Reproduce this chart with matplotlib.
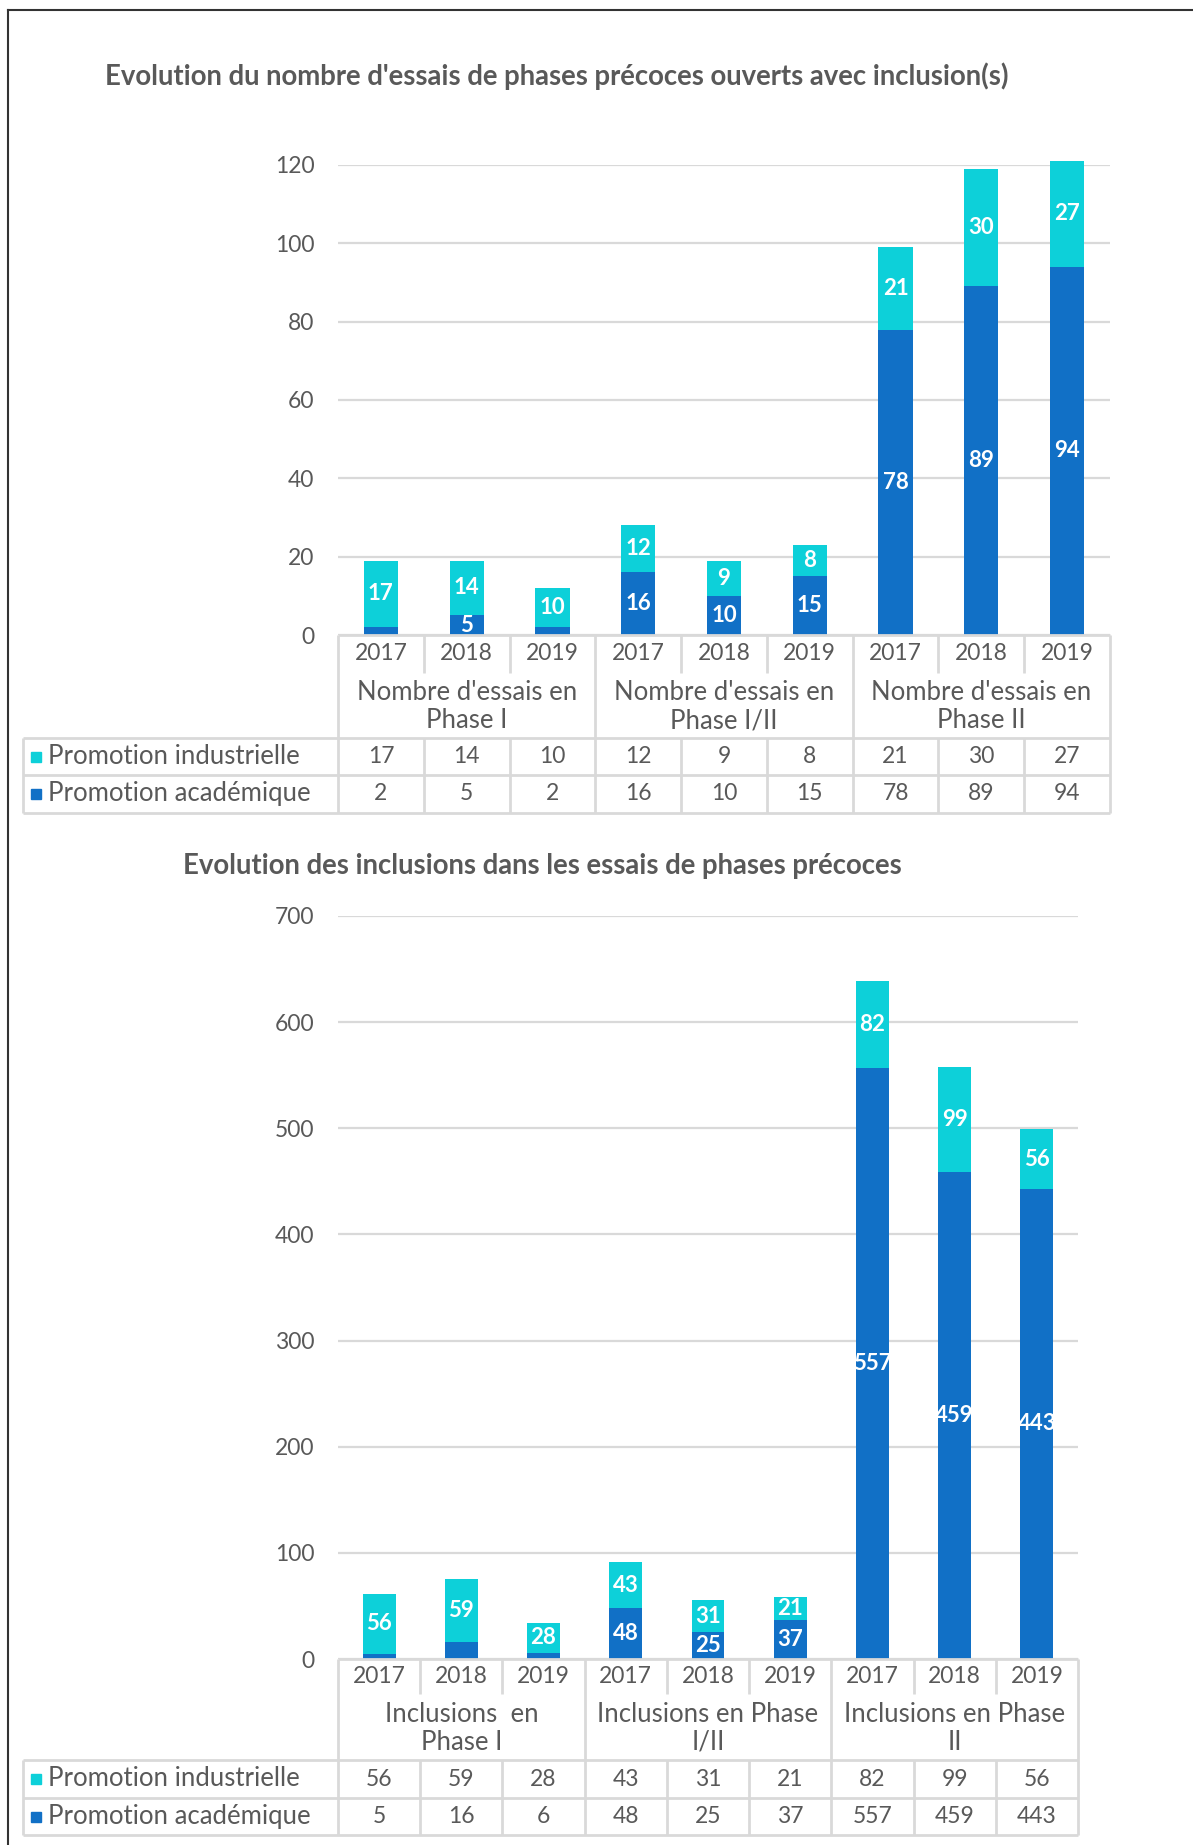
import numpy as np
import matplotlib.pyplot as plt
from matplotlib.lines import Line2D

W, H = 1193, 1845
DPI = 100

CYAN = '#0DD0D9'
BLUE = '#1170C6'
GRID = '#D9D9D9'
TEXT = '#595959'

plt.rcParams['font.family'] = ['Lato', 'DejaVu Sans']

years = ['2017', '2018', '2019']
series_names = ['Promotion industrielle', 'Promotion académique']

# first chart: number of trials
essais_groups = ["Nombre d'essais en\nPhase I", "Nombre d'essais en\nPhase I/II",
                 "Nombre d'essais en\nPhase II"]
essais_industrielle = [17, 14, 10, 12, 9, 8, 21, 30, 27]
essais_academique = [2, 5, 2, 16, 10, 15, 78, 89, 94]

# second chart: inclusions
incl_groups = ["Inclusions  en\nPhase I", "Inclusions en Phase\nI/II",
               "Inclusions en Phase\nII"]
incl_industrielle = [56, 59, 28, 43, 31, 21, 82, 99, 56]
incl_academique = [5, 16, 6, 48, 25, 37, 557, 459, 443]

NUM_FS = 16.5    # digits (ticks, years, table values)
WORD_FS = 18.5   # words (group labels, legend)


def fx(px):
    return px / W


def fy(py):
    return 1 - py / H


def panel(fig, title, title_pos, box, ymax, step, groups, ind, aca, rows):
    left, right, top, bottom = box
    n = len(ind)
    x = np.arange(n)

    fig.text(fx(title_pos[0]), fy(title_pos[1]), title, ha='center', va='center',
             fontsize=19.8, fontweight='bold', color=TEXT)

    ax = fig.add_axes([fx(left), fy(bottom), fx(right - left), (bottom - top) / H])
    ax.bar(x, aca, width=0.4, color=BLUE, clip_on=False, zorder=3)
    ax.bar(x, ind, bottom=aca, width=0.4, color=CYAN, clip_on=False, zorder=3)
    ax.set_xlim(-0.5, n - 0.5)
    ax.set_ylim(0, ymax)
    ax.set_yticks(np.arange(0, ymax + 1, step))
    ax.yaxis.grid(True, color=GRID, lw=1.6)
    ax.set_axisbelow(True)
    for s in ax.spines.values():
        s.set_visible(False)
    ax.tick_params(axis='y', length=0, pad=17, labelsize=NUM_FS, labelcolor=TEXT)
    ax.tick_params(axis='x', length=0, labelbottom=False)

    for xi, a, i in zip(x, aca, ind):
        if a / ymax > 0.03:
            ax.text(xi, a / 2, str(a), ha='center', va='center', color='white',
                    fontsize=16, fontweight='bold', zorder=4)
        ax.text(xi, a + i / 2, str(i), ha='center', va='center', color='white',
                fontsize=16, fontweight='bold', zorder=4)

    # data table under the chart
    y_axis, y_year, y_cat, y_r1, y_r2 = rows
    tleft = 23
    colw = (right - left) / n
    xl = -0.5 - (left - tleft) / colw
    tax = fig.add_axes([fx(tleft), fy(y_r2), fx(right - tleft), (y_r2 - y_axis) / H])
    tax.set_xlim(xl, n - 0.5)
    tax.set_ylim(y_r2, y_axis)
    tax.axis('off')

    kw = dict(color=GRID, lw=2, clip_on=False, solid_capstyle='butt')
    tax.plot([-0.5, n - 0.5], [y_axis, y_axis], **kw)
    for yy in (y_cat, y_r1, y_r2):
        tax.plot([xl, n - 0.5], [yy, yy], **kw)
    tax.plot([xl, xl], [y_cat, y_r2], **kw)
    for xb in (-0.5, 2.5, 5.5, n - 0.5):
        tax.plot([xb, xb], [y_axis, y_r2], **kw)
    for xb in (0.5, 1.5, 3.5, 4.5, 6.5, 7.5):
        tax.plot([xb, xb], [y_axis, y_year], **kw)
        tax.plot([xb, xb], [y_cat, y_r2], **kw)

    for xi in x:
        tax.text(xi, (y_axis + y_year) / 2, years[xi % 3], ha='center', va='center',
                 fontsize=NUM_FS, color=TEXT)
        tax.text(xi, (y_cat + y_r1) / 2, str(ind[xi]), ha='center', va='center',
                 fontsize=NUM_FS, color=TEXT)
        tax.text(xi, (y_r1 + y_r2) / 2, str(aca[xi]), ha='center', va='center',
                 fontsize=NUM_FS, color=TEXT)
    for gi, g in enumerate(groups):
        tax.text(3 * gi + 1, (y_year + y_cat) / 2 + 1, g, ha='center', va='center',
                 fontsize=WORD_FS, color=TEXT, linespacing=1.15)

    xmark = -0.5 + (36 - left) / colw
    xtxt = -0.5 + (48 - left) / colw
    for name, col, (ya, yb) in zip(series_names, [CYAN, BLUE], [(y_cat, y_r1), (y_r1, y_r2)]):
        tax.plot([xmark], [(ya + yb) / 2], marker='s', ms=7.5, color=col, clip_on=False)
        tax.text(xtxt, (ya + yb) / 2, name, ha='left', va='center', fontsize=WORD_FS,
                 color=TEXT)


fig = plt.figure(figsize=(W / DPI, H / DPI), dpi=DPI)

panel(fig, "Evolution du nombre d'essais de phases précoces ouverts avec inclusion(s)",
      (557, 76), (338, 1110, 165, 635), 120, 20, essais_groups,
      essais_industrielle, essais_academique, (635, 673, 738, 775, 813))

panel(fig, "Evolution des inclusions dans les essais de phases précoces",
      (542, 866), (338, 1078, 916, 1659), 700, 100, incl_groups,
      incl_industrielle, incl_academique, (1659, 1694, 1760, 1798, 1835))

# outer frame (left and top edges visible in the crop)
fig.add_artist(Line2D([fx(8), fx(8)], [fy(10), 0], color='#333333', lw=1.5))
fig.add_artist(Line2D([fx(8), 1], [fy(10), fy(10)], color='#333333', lw=1.5))

fig.savefig('out.png', dpi=DPI)
